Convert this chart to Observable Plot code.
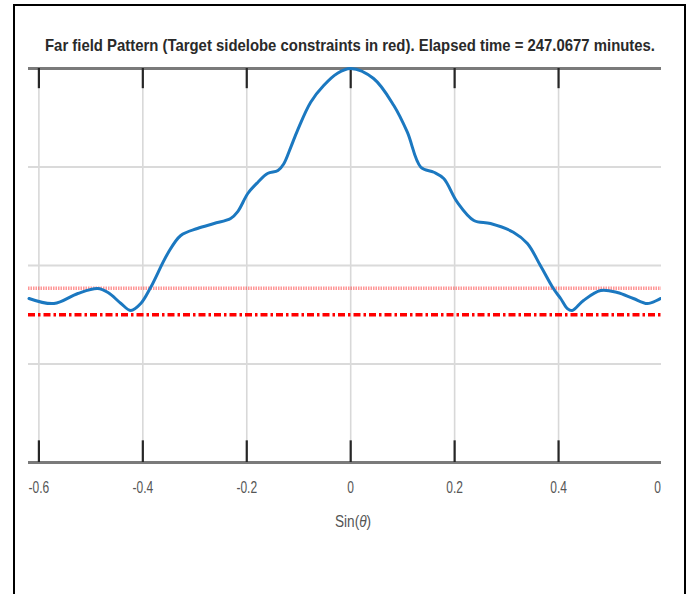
<!DOCTYPE html>
<html>
<head>
<meta charset="utf-8">
<script src="https://cdn.jsdelivr.net/npm/d3@7"></script>
<script src="https://cdn.jsdelivr.net/npm/@observablehq/plot@0.6"></script>
<style>
  html, body { margin: 0; padding: 0; background: #fff; }
  body { width: 691px; height: 594px; overflow: hidden; position: relative; font-family: "Liberation Sans", Arial, sans-serif; }
  #chart { position: absolute; left: 0; top: 0; z-index: 1; }
  #frame { position: absolute; left: 13px; top: 4px; width: 669px; height: 620px;
           border-left: 2px solid #000; border-top: 2px solid #000; border-right: 2px solid #000; z-index: 3; }
  #title { position: absolute; top: 37px; left: 0; white-space: nowrap; font-weight: bold; font-size: 17px;
           line-height: 18px; color: #2a2a2a; z-index: 2; transform-origin: 0 0; }
  #xlabel { position: absolute; top: 513px; left: 0; white-space: nowrap; font-size: 16px; line-height: 18px;
            color: #555; z-index: 2; transform-origin: 0 0; }
</style>
</head>
<body>
<div id="frame"></div>
<div id="title">Far field Pattern (Target sidelobe constraints in red). Elapsed time = 247.0677 minutes.</div>
<div id="xlabel">Sin(<i>θ</i>)</div>
<div id="chart"></div>
<script>
// ---- data ----
const sinTheta = [-0.619,-0.571,-0.525,-0.487,-0.467,-0.442,-0.423,-0.404,-0.385,-0.352,-0.327,-0.295,-0.263,-0.231,-0.217,-0.198,-0.179,-0.160,-0.140,-0.129,-0.115,-0.1025,-0.077,-0.052,-0.026,0,0.044,0.083,0.109,0.135,0.160,0.179,0.205,0.237,0.269,0.313,0.340,0.365,0.390,0.404,0.417,0.426,0.448,0.481,0.513,0.544,0.571,0.596];
const patternDb = [-23.35,-23.86,-22.84,-22.34,-22.74,-23.86,-24.57,-23.86,-22.23,-18.78,-16.95,-16.24,-15.74,-15.23,-14.5,-12.69,-11.57,-10.66,-10.36,-9.7,-7.95,-6.3,-3.42,-1.73,-0.51,0,-1.02,-3.76,-6.47,-10.02,-10.53,-11.17,-13.57,-15.43,-15.74,-16.62,-17.77,-20.0,-22.34,-23.35,-24.37,-24.57,-23.55,-22.54,-22.74,-23.35,-23.86,-23.35];
const xTicks = [-0.6, -0.4, -0.2, 0, 0.2, 0.4, 0.6];
const yGridLines = [-10, -20, -30];
const yDomain = [-40, 0];
const xDomain = [-0.62, 0.6];
const constraintUpper = [-22.3];
const constraintLower = [-25];

const pattern = sinTheta.map((x, i) => ({x, y: patternDb[i]}));

const plot = Plot.plot({
  width: 661,
  height: 594,
  marginLeft: 28,
  marginRight: 0,
  marginTop: 68,
  marginBottom: 132,
  style: {background: "transparent", overflow: "hidden", fontFamily: "'Liberation Sans',Arial,sans-serif", fontSize: "16px", color: "#555"},
  x: {domain: xDomain, range: [28, 662], ticks: xTicks, tickSize: 0, tickPadding: 19, tickFormat: d => String(d), label: null},
  y: {domain: yDomain, axis: null},
  marks: [
    Plot.ruleX(xTicks, {stroke: "#d8d8d8", strokeWidth: 1.6}),
    Plot.ruleY(yGridLines, {stroke: "#dadada", strokeWidth: 2}),
    Plot.ruleY(yDomain, {stroke: "#7a7a7a", strokeWidth: 3}),
    Plot.ruleX(xTicks, {y1: 0, y2: -2.05, stroke: "#262626", strokeWidth: 2.2}),
    Plot.ruleX(xTicks, {y1: -40, y2: -37.8, stroke: "#262626", strokeWidth: 2.2}),
    Plot.ruleY(constraintUpper, {stroke: "#ff4040", strokeOpacity: 0.55, strokeWidth: 3.5, strokeDasharray: "1.5 1"}),
    Plot.ruleY(constraintLower, {stroke: "#ff0000", strokeWidth: 3.5, strokeDasharray: "7 3 2.5 3"}),
    Plot.line(pattern, {x: "x", y: "y", stroke: "#1b78c0", strokeWidth: 3, curve: "catmull-rom"})
  ]
});
document.getElementById("chart").appendChild(plot);

// condensed tick labels, as in the reference
d3.select(plot).selectAll("g[aria-label='x-axis'] text, g[aria-label='x-axis tick label'] text").each(function() {
  const t = this.getAttribute("transform") || "";
  this.setAttribute("transform", t + " scale(0.75 1)");
});

// fit title to reference width (condensed look), centred on x = 350
const title = document.getElementById("title");
const tw = title.getBoundingClientRect().width;
title.style.transform = `scaleX(${610 / tw})`;
title.style.left = (350 - 610 / 2) + "px";

const xl = document.getElementById("xlabel");
const xw = xl.getBoundingClientRect().width;
const xs = 0.85;
xl.style.transform = `scaleX(${xs})`;
xl.style.left = (353 - xw * xs / 2) + "px";
</script>
</body>
</html>
